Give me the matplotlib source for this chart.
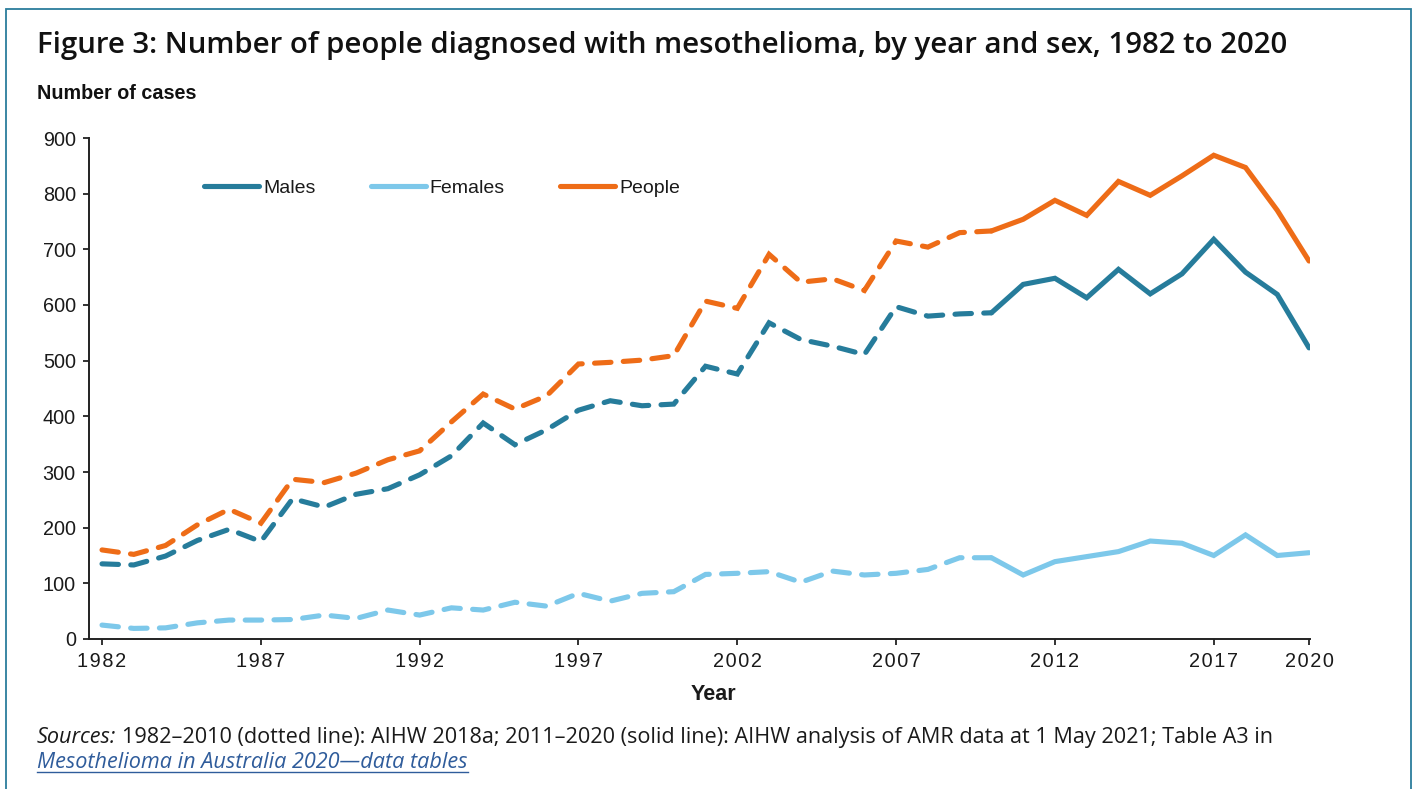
import matplotlib
matplotlib.use("Agg")
import matplotlib.pyplot as plt
from matplotlib.lines import Line2D
from matplotlib.patches import Rectangle
import numpy as np

years = list(range(1982, 2021))
males = [135, 133, 149, 177, 197, 175, 252, 237, 260, 270, 295, 329, 388, 349, 376, 411, 428, 419, 422, 490,
         476, 568, 538, 526, 511, 597, 580, 584, 586, 637, 648, 613, 664, 620, 656, 718, 659, 619, 523]
females = [25, 19, 20, 29, 34, 34, 35, 43, 37, 52, 43, 56, 52, 66, 59, 82, 68, 82, 85, 116,
           118, 121, 102, 122, 115, 118, 125, 146, 146, 115, 139, 148, 157, 176, 172, 150, 187, 150, 155]
people = [160, 152, 168, 205, 233, 208, 287, 281, 298, 322, 338, 390, 440, 413, 437, 494, 497, 501, 509, 607,
          594, 691, 641, 647, 626, 715, 704, 730, 733, 754, 788, 761, 822, 797, 832, 869, 847, 770, 679]
series_names = ["Males", "Females", "People"]
split_year = 2010
xtick_years = [1982, 1987, 1992, 1997, 2002, 2007, 2012, 2017, 2020]
yticks = [0, 100, 200, 300, 400, 500, 600, 700, 800, 900]

colors = {"Males": "#267C9B", "Females": "#7DC8EA", "People": "#EE6C17"}
W, H = 1414, 789
fig = plt.figure(figsize=(W / 100, H / 100), dpi=100)

# frame
fig.patches.append(Rectangle((6 / W, -0.05), (1411 - 6) / W, (H - 9) / H + 0.05,
                             transform=fig.transFigure, fill=False, edgecolor="#2B7D9C",
                             linewidth=1.3, clip_on=False))

ax = fig.add_axes([89 / W, (H - 639) / H, (1310 - 89) / W, (639 - 138) / H])
lw = 3.7
data = {"Males": males, "Females": females, "People": people}
yrs = np.array(years)
for name in ["Females", "Males", "People"]:
    v = np.array(data[name])
    m1 = yrs <= split_year
    m2 = yrs >= split_year
    ax.plot(yrs[m1], v[m1], color=colors[name], lw=lw, dashes=(3.2, 2.4),
            dash_capstyle="round", solid_capstyle="round", dash_joinstyle="miter")
    ax.plot(yrs[m2], v[m2], color=colors[name], lw=lw, solid_capstyle="round",
            solid_joinstyle="miter")

ax.set_xlim(1981.59, 2020.03)
ax.set_ylim(0, 900)
ax.set_yticks(yticks)
ax.set_xticks(xtick_years)
ax.set_xticklabels(["\u200a".join(str(y)) for y in xtick_years])
ax.tick_params(axis="both", direction="out", length=4.5, width=1.3, color="#222222",
               labelsize=14.3, labelcolor="#1a1a1a", pad=5)
for lab in ax.get_xticklabels() + ax.get_yticklabels():
    lab.set_fontfamily(["Liberation Sans", "DejaVu Sans"])
for s in ["top", "right"]:
    ax.spines[s].set_visible(False)
for s in ["left", "bottom"]:
    ax.spines[s].set_linewidth(1.4)
    ax.spines[s].set_color("#222222")

handles = [Line2D([0], [0], color=colors[n], lw=lw, solid_capstyle="round") for n in series_names]
leg = ax.legend(handles, series_names, ncol=3, frameon=False, loc="center left",
                bbox_to_anchor=((204 - 89) / (1310 - 89), (639 - 188) / (639 - 138)),
                prop={"family": "Liberation Sans", "size": 14}, handlelength=2.83,
                handletextpad=0.2, columnspacing=2.85, borderpad=0, borderaxespad=0)
for t in leg.get_texts():
    t.set_color("#1a1a1a")

fig.text(713 / W, (H - 700) / H, "Year", ha="center", va="baseline", fontsize=15.5,
         fontweight="bold", family="Liberation Sans", color="#1a1a1a")

fig.text(37 / W, (H - 53) / H, "Figure 3: Number of people diagnosed with mesothelioma, by year and sex, 1982 to 2020",
         ha="left", va="baseline", fontsize=21.2, fontweight="semibold", family="Open Sans", color="#111111")
fig.text(37 / W, (H - 99) / H, "Number of cases", ha="left", va="baseline", fontsize=14.2,
         fontweight="bold", family="Liberation Sans", color="#111111")

fs_src = 15.6
t1 = fig.text(37 / W, (H - 743) / H, "Sources:", ha="left", va="baseline", fontsize=fs_src,
              style="italic", family="Open Sans", color="#1a1a1a")
fig.canvas.draw()
r = fig.canvas.get_renderer()
bb = t1.get_window_extent(r)
fig.text((bb.x1 + 6) / W, (H - 743) / H,
         "1982\u20132010 (dotted line): AIHW 2018a; 2011\u20132020 (solid line): AIHW analysis of AMR data at 1 May 2021; Table A3 in",
         ha="left", va="baseline", fontsize=fs_src, family="Open Sans", color="#1a1a1a")
t3 = fig.text(37 / W, (H - 768) / H, "Mesothelioma in Australia 2020\u2014data tables", ha="left",
              va="baseline", fontsize=fs_src, style="italic", family="Open Sans", color="#2F5C9B")
fig.canvas.draw()
bb3 = t3.get_window_extent(fig.canvas.get_renderer())
fig.add_artist(Line2D([bb3.x0 / W, bb3.x1 / W], [(H - 772) / H, (H - 772) / H],
                      transform=fig.transFigure, color="#2F5C9B", lw=1.0))

fig.savefig("out.png", dpi=100)
